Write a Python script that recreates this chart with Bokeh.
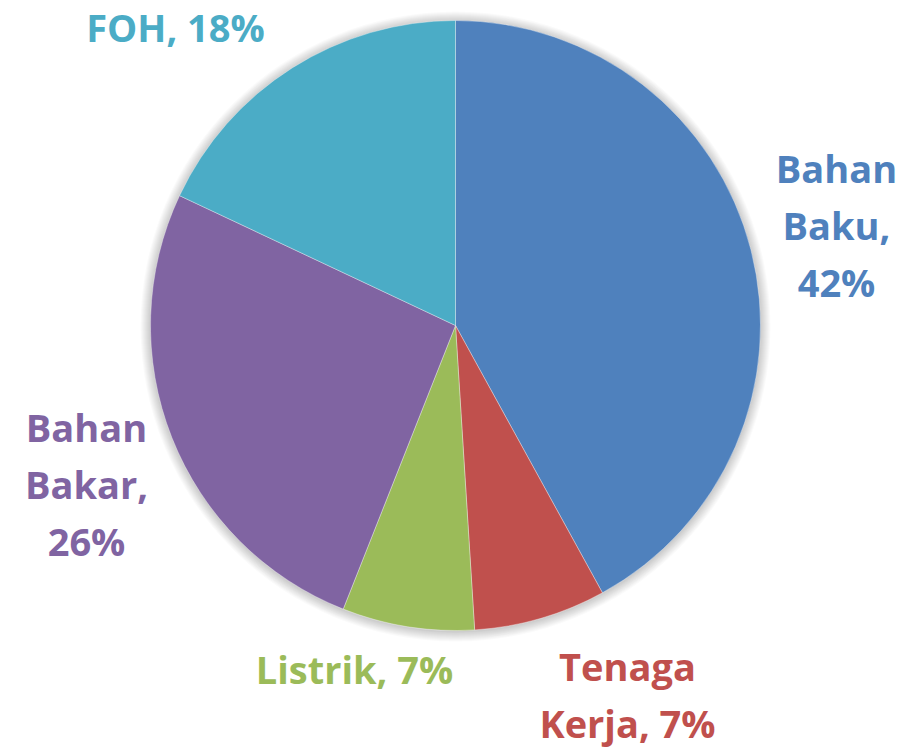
import math
from bokeh.plotting import figure
from bokeh.models import Range1d, ColumnDataSource
from bokeh.core.properties import value
from bokeh.embed import file_html
from bokeh.resources import INLINE

# ---- data ----
categories = ["Bahan Baku", "Tenaga Kerja", "Listrik", "Bahan Bakar", "FOH"]
shares = [42, 7, 7, 26, 18]
label_texts = ["Bahan\nBaku,\n42%", "Tenaga\nKerja, 7%", "Listrik, 7%", "Bahan\nBakar,\n26%", "FOH, 18%"]
colors = ["#4F81BD", "#C0504D", "#9BBB59", "#8064A2", "#4BACC6"]

W, H = 923, 749
CX, CY, R = 455, H - 325, 305
LINE_GAP = 57

# label anchor: (center x, first line position) in pixels from top-left
label_pos = [(836, 167), (627, 665), (354, 668), (86, 426), (175, 26)]

p = figure(width=W, height=H, output_backend="svg", toolbar_location=None,
           x_range=Range1d(0, W), y_range=Range1d(0, H), min_border=0)
p.axis.visible = False
p.grid.visible = False
p.outline_line_color = None
p.background_fill_color = "white"
p.border_fill_color = "white"

# soft shadow around the pie
for i in range(10, 0, -1):
    p.circle(x=[CX], y=[CY - 1], radius=R + i, fill_color="black",
             fill_alpha=0.018, line_color=None)

total = float(sum(shares))
starts, ends = [], []
a = math.pi / 2
for v in shares:
    sweep = 2 * math.pi * v / total
    starts.append(a - sweep)
    ends.append(a)
    a -= sweep

src = ColumnDataSource(dict(start=starts, end=ends, color=colors, cat=categories))
p.wedge(x=CX, y=CY, radius=R, start_angle="start", end_angle="end",
        fill_color="color", line_color="white", line_alpha=0.35, line_width=1,
        source=src)

xs, ys, ts, cs = [], [], [], []
for (lx, ly), txt, col in zip(label_pos, label_texts, colors):
    for k, line in enumerate(txt.split("\n")):
        xs.append(lx)
        ys.append(H - (ly + k * LINE_GAP))
        ts.append(line)
        cs.append(col)

lsrc = ColumnDataSource(dict(x=xs, y=ys, text=ts, color=cs))
p.text(x="x", y="y", text="text", text_color="color", source=lsrc,
       text_font=value("Open Sans"), text_font_style="bold", text_font_size="38px",
       text_align="center", text_baseline="alphabetic")

open("out.html", "w").write(file_html(p, INLINE))
